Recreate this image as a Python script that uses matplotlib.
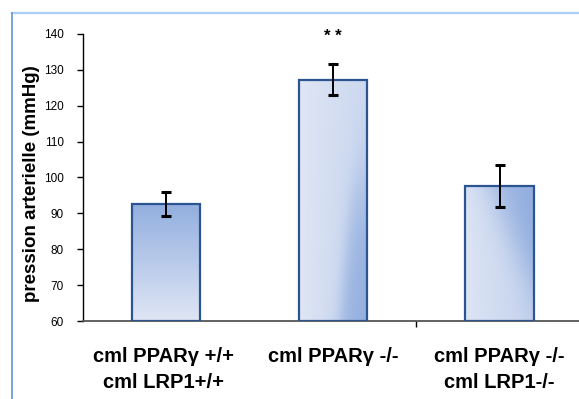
import numpy as np
import matplotlib
matplotlib.use("Agg")
import matplotlib.pyplot as plt
from matplotlib.colors import LinearSegmentedColormap
from matplotlib.lines import Line2D

plt.rcParams['font.family'] = ['Liberation Sans', 'DejaVu Sans']

# Data
categories = ["cml PPARγ +/+\ncml LRP1+/+", "cml PPARγ -/-", "cml PPARγ -/-\ncml LRP1-/-"]
means = [92.6, 127.3, 97.6]
errors = [3.4, 4.2, 5.8]
significance = ["", "* *", ""]
y_ticks = [60, 70, 80, 90, 100, 110, 120, 130, 140]
y_label = "pression arterielle (mmHg)"

W, H = 579, 399
fig = plt.figure(figsize=(W / 100, H / 100), dpi=100)
ax = fig.add_axes([83 / W, 1 - 321 / H, 500 / W, 287 / H])

# light blue frame around the chart area
fig.add_artist(Line2D([12 / W, 1.0], [1 - 13 / H, 1 - 13 / H], transform=fig.transFigure,
                      color="#a9cff5", lw=1.6))
fig.add_artist(Line2D([12 / W, 12 / W], [0.0, 1 - 13 / H], transform=fig.transFigure,
                      color="#6f9cd8", lw=1.3))

light = "#e3e9f6"
dark = "#93afdf"
cmap = LinearSegmentedColormap.from_list("barfill", [light, dark])

def sig(x):
    return 1 / (1 + np.exp(-x))

n = 200
u, v = np.meshgrid(np.linspace(0, 1, n), np.linspace(0, 1, n))
fills = [
    0.05 + 0.95 * v,
    np.clip(0.05 + 0.4 * u * (1 - 0.4 * v)
            + 0.55 * sig((u - 0.6 - 0.3 * v) * 18) * sig((0.55 - v) * 9), 0, 1),
    np.clip(0.08 + 0.3 * u + 0.65 * sig((u + 0.9 * v - 1.25) * 7), 0, 1),
]

x = np.arange(len(categories))
width = 0.41
bottom = 60
bars = ax.bar(x, [m - bottom for m in means], width, bottom=bottom,
              facecolor="none", edgecolor="#2b5490", linewidth=1.6, zorder=3)

for bar, fill in zip(bars, fills):
    x0, y0 = bar.get_x(), bar.get_y()
    img = ax.imshow(fill, cmap=cmap, vmin=0, vmax=1, origin="lower", aspect="auto",
                    extent=[x0, x0 + bar.get_width(), y0, y0 + bar.get_height()],
                    zorder=2, interpolation="bilinear")
    img.set_clip_path(bar)

ax.errorbar(x, means, yerr=errors, fmt="none", ecolor="black", elinewidth=1.4,
            capsize=3.3, capthick=2.2, zorder=4)

for xi, m, e, s in zip(x, means, errors, significance):
    if s:
        ax.text(xi, 139.2, s, ha="center", va="center", fontsize=12, fontweight="bold")

ax.set_xlim(-0.5, 2.5)
ax.set_ylim(60, 140)
ax.set_yticks(y_ticks)
ax.tick_params(axis="y", labelsize=8.5, length=4, width=1, direction="out", pad=10)
ax.set_xticks([1.5])
ax.set_xticklabels([""])
ax.tick_params(axis="x", length=4, width=1, direction="out")

for sp in ["top", "right"]:
    ax.spines[sp].set_visible(False)
ax.spines["left"].set_color("black")
ax.spines["left"].set_linewidth(1.0)
ax.spines["bottom"].set_color("#555555")
ax.spines["bottom"].set_linewidth(1.3)

label_offsets = [-3 / 166.7, 0, 0]
for xi, lab, off in zip(x, categories, label_offsets):
    ax.text(xi + off, -0.09, lab, transform=ax.get_xaxis_transform(), ha="center", va="top",
            fontsize=14.5, fontweight="bold", multialignment="center", linespacing=1.5)

fig.text(32 / W, 1 - 184 / H, y_label, rotation=90, ha="center", va="center",
         fontsize=13.5, fontweight="bold")

fig.savefig("out.png", dpi=100)
